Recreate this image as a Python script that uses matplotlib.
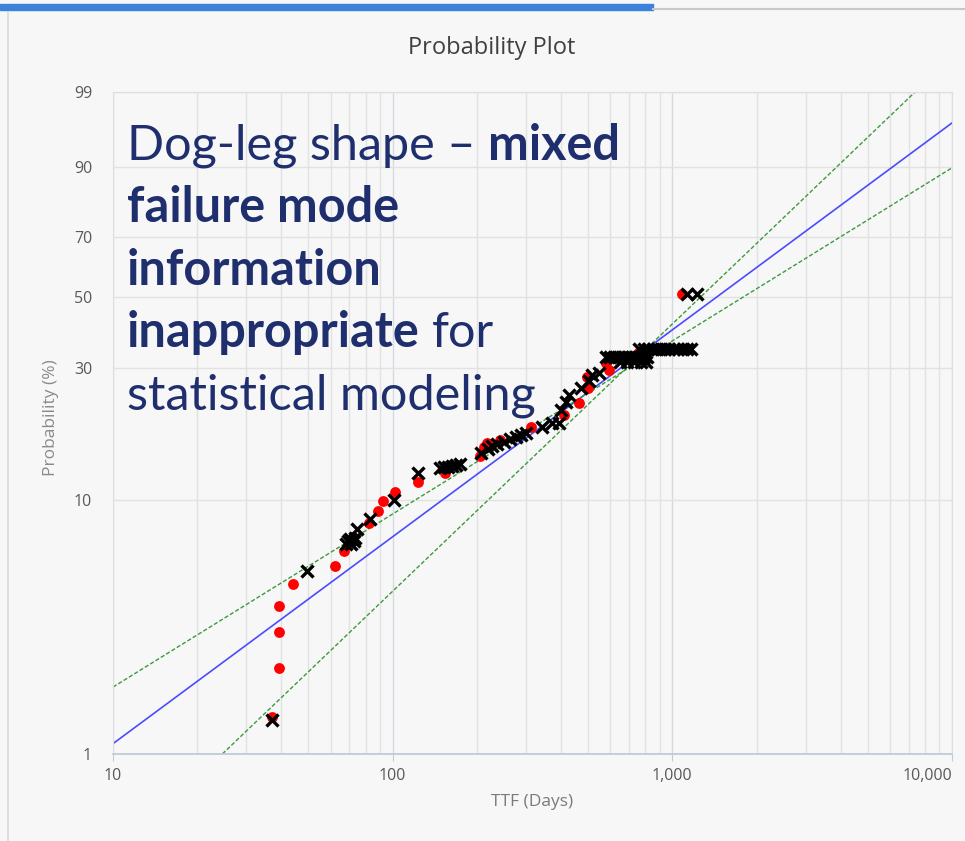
import numpy as np
import matplotlib
matplotlib.use('Agg')
import matplotlib.pyplot as plt
from matplotlib.ticker import FixedLocator, FixedFormatter, NullFormatter, LogLocator
from matplotlib.lines import Line2D
from matplotlib.patches import Rectangle

# failures (red dots): TTF in days, probability in %
fail_ttf = [36.9, 39.3, 39.3, 39.3, 44.0, 62.4, 67.2, 72.0, 82.1, 88.4, 92.1, 101.6,
            122.8, 154.3, 204.6, 211.4, 216.7, 241, 312.8, 411, 465.6, 500, 497,
            580, 596, 763, 1086]
fail_prob = [1.41, 2.21, 3.05, 3.88, 4.72, 5.57, 6.37, 7.22, 8.17, 9.09, 9.95, 10.77,
             11.74, 12.67, 14.66, 15.86, 16.38, 16.79, 18.76, 20.69, 22.82, 25.8, 28.1,
             31.27, 29.6, 34.04, 50.8]

# black crosses
cross_ttf = [36.9, 49.4,
             68.0, 69.5, 71.0, 72.5, 70.2, 73.5,
             74.3, 82.7, 100.8, 122.8,
             148, 153, 158, 163, 168, 174,
             207, 220, 227, 236,
             250, 262, 275, 288, 300,
             343, 370, 394.6,
             401, 418, 428.6,
             472, 505.6, 517.6, 548.3,
             580, 600, 620, 640, 660, 680, 700, 720, 740, 760, 790, 810,
             650, 690, 730, 770, 805,
             760, 790, 820, 850, 880, 910, 940, 975, 1010, 1050, 1090, 1130, 1166,
             1132, 1228]
cross_prob = [1.37, 5.32,
              6.75, 6.95, 6.80, 6.95, 7.10, 7.15,
              7.75, 8.47, 10.0, 12.67,
              13.2, 13.35, 13.3, 13.5, 13.55, 13.7,
              15.04, 15.6, 15.9, 16.2,
              16.5, 16.9, 17.2, 17.5, 17.8,
              18.7, 19.36, 19.36,
              21.55, 23.06, 24.34,
              25.8, 27.2, 28.5, 28.94,
              32.7, 32.7, 32.7, 32.7, 32.7, 32.7, 32.7, 32.7, 32.7, 32.7, 32.7, 32.7,
              31.6, 31.6, 31.6, 31.6, 31.6,
              34.8, 34.8, 34.8, 34.8, 34.8, 34.8, 34.8, 34.8, 34.8, 34.8, 34.8, 34.8, 34.8,
              50.8, 50.8]

# fitted line and confidence bounds (end points)
fit_ttf = [10, 10000]
fit_prob = [1.10, 96.85]
upper_ttf = [24.6, 7380]
upper_prob = [1.0, 99.0]
lower_ttf = [10, 10000]
lower_prob = [1.85, 89.8]

y_ticks = [1, 10, 30, 50, 70, 90, 99]
x_ticks = [10, 100, 1000, 10000]
x_tick_labels = ['10', '100', '1,000', '10,000']

W, H = 965, 841
bg = '#f7f7f7'
navy = '#1f2f6e'


def weib(p):
    p = np.clip(np.asarray(p, dtype=float), 1e-6, 99.99999) / 100.0
    return np.log(-np.log(1.0 - p))


def weib_inv(w):
    return 100.0 * (1.0 - np.exp(-np.exp(w)))


fig = plt.figure(figsize=(W / 100, H / 100), dpi=100, facecolor=bg)

# page chrome: blue tab bar, top border, left panel border
fig.patches.append(Rectangle((0, 1 - 10 / H), 653 / W, 6 / H, transform=fig.transFigure,
                             color='#3b82dc', zorder=0))
fig.add_artist(Line2D([653 / W, 1], [1 - 9 / H, 1 - 9 / H], color='#c8c8c8', lw=1.5))
fig.add_artist(Line2D([8 / W, 8 / W], [0, 1 - 12 / H], color='#dadada', lw=1.2))

ax = fig.add_axes([113 / W, 1 - 754 / H, (952 - 113) / W, (754 - 92) / H])
ax.set_facecolor(bg)
ax.set_xscale('log')
ax.set_yscale('function', functions=(weib, weib_inv))
ax.set_xlim(10, 10000)
ax.set_ylim(1, 99)

ax.xaxis.set_major_locator(FixedLocator(x_ticks))
ax.xaxis.set_major_formatter(FixedFormatter(x_tick_labels))
ax.xaxis.set_minor_locator(LogLocator(base=10, subs=range(2, 10)))
ax.xaxis.set_minor_formatter(NullFormatter())
ax.yaxis.set_major_locator(FixedLocator(y_ticks))
ax.yaxis.set_major_formatter(FixedFormatter([str(v) for v in y_ticks]))
ax.yaxis.set_minor_locator(FixedLocator([]))

ax.grid(which='major', axis='x', color='#d3dae4', lw=1)
ax.grid(which='minor', axis='x', color='#e2e2e2', lw=1)
ax.grid(which='major', axis='y', color='#e2e2e2', lw=1)
ax.set_axisbelow(True)

for side in ['top', 'right', 'left']:
    ax.spines[side].set_color('#dedede')
ax.spines['bottom'].set_color('#c0cbd9')
ax.spines['bottom'].set_linewidth(1.3)

ax.tick_params(axis='y', length=0, pad=15, labelsize=11.5, labelcolor='#595959')
ax.tick_params(axis='x', which='major', length=5, color='#c0cbd9', pad=5,
               labelsize=11.5, labelcolor='#595959')
ax.tick_params(axis='x', which='minor', length=0)
for lab in ax.get_xticklabels() + ax.get_yticklabels():
    lab.set_family('Open Sans')
# keep the last x label inside the figure
ax.get_xticklabels()[-1].set_horizontalalignment('right')

ax.plot(fit_ttf, fit_prob, color='#4b4bff', lw=1.2, zorder=2)
ax.plot(upper_ttf, upper_prob, color='#3c9a3c', lw=1, ls=(0, (3, 1.5)), zorder=2)
ax.plot(lower_ttf, lower_prob, color='#3c9a3c', lw=1, ls=(0, (3, 1.5)), zorder=2)
ax.plot(fail_ttf, fail_prob, 'o', color='#ff0000', ms=7.8, mec='none', zorder=3)
ax.plot(cross_ttf, cross_prob, 'x', color='black', ms=8.5, mew=2.4, zorder=4,
        clip_on=False)

fig.text(492 / W, 1 - 48 / H, 'Probability Plot', ha='center', va='center',
         fontsize=17, color='#404040', family='Open Sans')
fig.text(532 / W, 1 - 802 / H, 'TTF (Days)', ha='center', va='center',
         fontsize=12.5, color='#7a7a7a', family='Open Sans')
fig.text(51 / W, 1 - 418 / H, 'Probability (%)', ha='center', va='center', rotation=90,
         fontsize=12.5, color='#8a8a8a', family='Open Sans')

# annotation with mixed regular / bold runs
renderer = fig.canvas.get_renderer()
note_size = 35


def measure(s, weight):
    t = fig.text(0, 0, s, fontsize=note_size, fontweight=weight, family='Lato')
    w = t.get_window_extent(renderer).width
    t.remove()
    return w


space_w = measure('x x', 'normal') - measure('xx', 'normal')

note_lines = [
    (160, [('Dog-leg shape \u2013', 'normal'), ('mixed', 'bold')]),
    (222, [('failure mode', 'bold')]),
    (285, [('information', 'bold')]),
    (347, [('inappropriate', 'bold'), ('for', 'normal')]),
    (410, [('statistical modeling', 'normal')]),
]
for y_px, parts in note_lines:
    x_px = 127
    for txt, weight in parts:
        t = fig.text(x_px / W, 1 - y_px / H, txt, fontsize=note_size, fontweight=weight,
                     family='Lato', color=navy, ha='left', va='baseline', zorder=5)
        x_px += t.get_window_extent(renderer).width + space_w

fig.savefig('out.png', dpi=100, facecolor=fig.get_facecolor())
